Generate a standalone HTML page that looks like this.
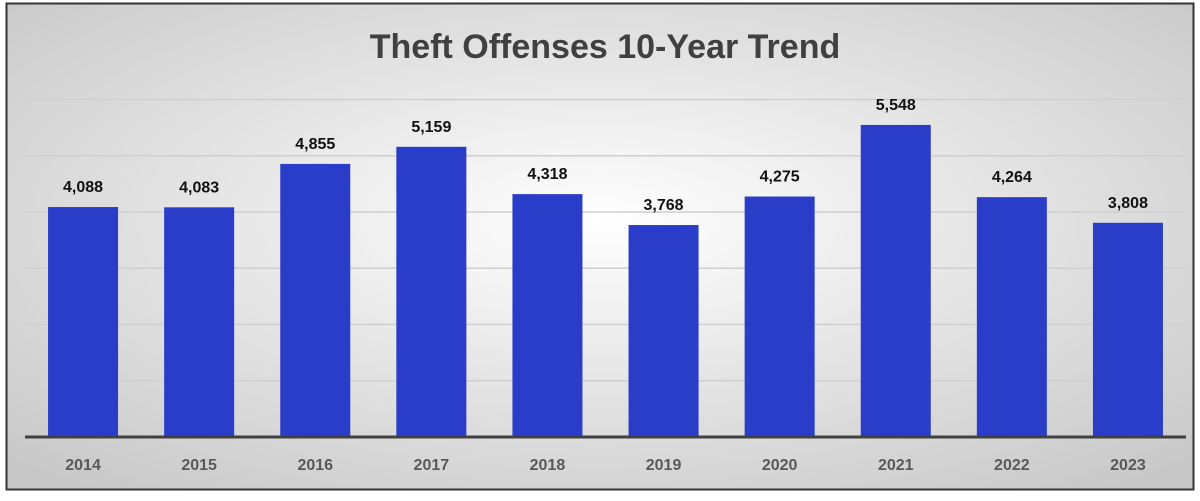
<!DOCTYPE html>
<html><head><meta charset="utf-8"><style>
html,body{margin:0;padding:0;background:#fff;}
body{width:1200px;height:496px;overflow:hidden;font-family:"Liberation Sans",sans-serif;}
</style></head><body>
<svg width="1200" height="496">
<defs><radialGradient id="bg" cx="50%" cy="45%" r="70%"><stop offset="0" stop-color="#ffffff"/><stop offset="1" stop-color="#c8c8c8"/></radialGradient></defs>
<rect x="6.5" y="3.5" width="1187" height="486" fill="url(#bg)" stroke="#333" stroke-width="2"/>
<text x="605" y="58" text-anchor="middle" font-size="34" font-weight="bold" fill="#404040">Theft Offenses 10-Year Trend</text>
<g id="grid"></g><g id="bars"></g><g id="labels"></g>
<line x1="25" y1="437" x2="1186" y2="437" stroke="#404040" stroke-width="3"/>
</svg>
<script>
const years=["2014","2015","2016","2017","2018","2019","2020","2021","2022","2023"];
const values=[4088,4083,4855,5159,4318,3768,4275,5548,4264,3808];
const gridTicks=[1000,2000,3000,4000,5000,6000];
const NS="http://www.w3.org/2000/svg";
const x0=25,x1=1186,yBase=437,yTop=99.5,vMax=6000;
const band=(x1-x0)/years.length;
function xC(i){return x0+band*(i+0.5);}
function y(v){return yBase-(yBase-yTop)*v/vMax;}
const g=document.getElementById('grid'),b=document.getElementById('bars'),l=document.getElementById('labels');
gridTicks.forEach(t=>{const ln=document.createElementNS(NS,'line');
ln.setAttribute('x1',x0);ln.setAttribute('x2',x1);ln.setAttribute('y1',y(t));ln.setAttribute('y2',y(t));
ln.setAttribute('stroke','#cfcfcf');ln.setAttribute('stroke-width','1.5');


g.appendChild(ln);});
years.forEach((yr,i)=>{const v=values[i];const r=document.createElementNS(NS,'rect');
r.setAttribute('x',xC(i)-35);r.setAttribute('width',70);r.setAttribute('y',y(v));r.setAttribute('height',yBase-y(v));
r.setAttribute('fill','#293dc8');


b.appendChild(r);
const t=document.createElementNS(NS,'text');t.setAttribute('x',xC(i));t.setAttribute('y',y(v)-15);
t.setAttribute('text-anchor','middle');t.setAttribute('font-size','16');t.setAttribute('font-weight','bold');t.setAttribute('fill','#111');
t.textContent=v.toLocaleString('en-US');


l.appendChild(t);
const c=document.createElementNS(NS,'text');c.setAttribute('x',xC(i));c.setAttribute('y',470);
c.setAttribute('text-anchor','middle');c.setAttribute('font-size','16');c.setAttribute('font-weight','bold');c.setAttribute('fill','#595959');
c.textContent=yr;


l.appendChild(c);});
</script>
</body></html>
